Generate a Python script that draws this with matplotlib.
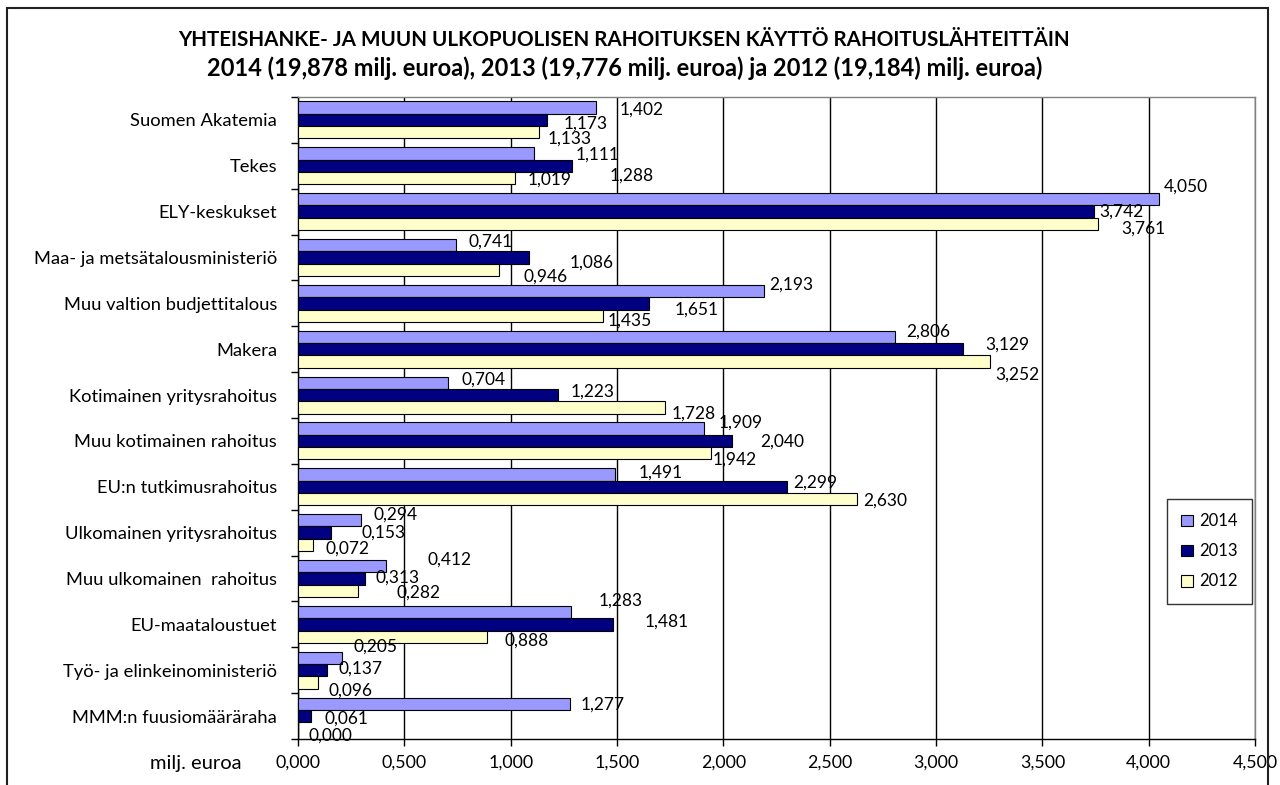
import matplotlib
matplotlib.use("Agg")
import matplotlib.pyplot as plt
from matplotlib.patches import Patch, Rectangle
import numpy as np

categories = ["Suomen Akatemia", "Tekes", "ELY-keskukset", "Maa- ja metsätalousministeriö",
              "Muu valtion budjettitalous", "Makera", "Kotimainen yritysrahoitus",
              "Muu kotimainen rahoitus", "EU:n tutkimusrahoitus", "Ulkomainen yritysrahoitus",
              "Muu ulkomainen  rahoitus", "EU-maataloustuet", "Työ- ja elinkeinoministeriö",
              "MMM:n fuusiomääräraha"]
v2014 = [1.402, 1.111, 4.050, 0.741, 2.193, 2.806, 0.704, 1.909, 1.491, 0.294, 0.412, 1.283, 0.205, 1.277]
v2013 = [1.173, 1.288, 3.742, 1.086, 1.651, 3.129, 1.223, 2.040, 2.299, 0.153, 0.313, 1.481, 0.137, 0.061]
v2012 = [1.133, 1.019, 3.761, 0.946, 1.435, 3.252, 1.728, 1.942, 2.630, 0.072, 0.282, 0.888, 0.096, 0.000]
series_names = ["2014", "2013", "2012"]
xticks = [0, 0.5, 1.0, 1.5, 2.0, 2.5, 3.0, 3.5, 4.0, 4.5]
title1 = "YHTEISHANKE- JA MUUN ULKOPUOLISEN RAHOITUKSEN KÄYTTÖ RAHOITUSLÄHTEITTÄIN"
title2 = "2014 (19,878 milj. euroa), 2013 (19,776 milj. euroa) ja 2012 (19,184) milj. euroa)"
xlabel = "milj. euroa"

# label placement offsets (layout only): dx in data units, dy in pixels (down positive)
lab_dx = [[0.112, 0.074, 0.040], [0.194, 0.179, 0.063], [0.020, 0.025, 0.109],
          [0.062, 0.189, 0.114], [0.025, 0.119, 0.023], [0.055, 0.102, 0.026],
          [0.063, 0.057, 0.027], [0.069, 0.134, 0.007], [0.110, 0.031, 0.030],
          [0.061, 0.146, 0.058], [0.198, 0.053, 0.179], [0.129, 0.151, 0.081],
          [0.054, 0.053, 0.047], [0.053, 0.062, 0.049]]
lab_dy = [[2, 4, 6], [1, 10, 2], [-13, 0, 5], [-4, 5, 7], [-6, 6, 5], [-5, -5, 13],
          [-3, -3, 6], [-6, 1, 6], [-2, -4, 2], [-6, 0, 4], [-7, -1, 2], [-11, -3, 4],
          [-11, -2, 8], [1, 3, 7]]

colors = ["#9999FF", "#000080", "#FFFFCC"]
FONT = "Lato"

W, H = 1280, 785
fig = plt.figure(figsize=(W / 100, H / 100), dpi=100)
ax = fig.add_axes([298 / W, 1 - 739 / H, (1255 - 298) / W, (739 - 97) / H])

n = len(categories)
y = np.arange(n)
bh = 0.268
offs = [-bh, 0.0, bh]
data = [v2014, v2013, v2012]
for s, (vals, off, col) in enumerate(zip(data, offs, colors)):
    ax.barh(y + off, vals, height=bh, color=col, edgecolor="black", linewidth=0.8, zorder=3)
    for i, v in enumerate(vals):
        txt = f"{v:.3f}".replace(".", ",")
        ax.annotate(txt, xy=(v + lab_dx[i][s], y[i] + off), xytext=(0, -lab_dy[i][s]),
                    textcoords="offset pixels", ha="left", va="center",
                    fontsize=12.5, family=FONT, color="black", zorder=5)

ax.set_xlim(0, 4.5)
ax.set_ylim(n - 0.5, -0.5)
ax.set_xticks(xticks)
ax.set_xticklabels([f"{t:.3f}".replace(".", ",") for t in xticks], family=FONT, fontsize=12.8)
ax.set_yticks(y)
ax.set_yticklabels(categories, family=FONT, fontsize=13.2)
ax.set_yticks(np.arange(n + 1) - 0.5, minor=True)
ax.tick_params(axis="y", which="major", length=0, pad=15)
ax.tick_params(axis="y", which="minor", length=5, width=1, direction="out", color="black")
ax.tick_params(axis="x", which="major", length=5, width=1, direction="out", pad=6, color="black")
ax.grid(axis="x", color="black", linewidth=1.0, zorder=0)
ax.set_axisbelow(True)
for side in ["top", "right"]:
    ax.spines[side].set_color("#808080")
    ax.spines[side].set_linewidth(1.0)
for side in ["left", "bottom"]:
    ax.spines[side].set_color("black")
    ax.spines[side].set_linewidth(1.0)

fig.text(196 / W, 1 - 763 / H, xlabel, ha="center", va="center", family=FONT, fontsize=14.5)

fig.text(624 / W, 1 - 40 / H, title1, ha="center", va="center", family=FONT,
         fontsize=14.9, fontweight="bold")
fig.text(625 / W, 1 - 68 / H, title2, ha="center", va="center", family=FONT,
         fontsize=17, fontweight="bold")

handles = [Patch(facecolor=c, edgecolor="black", linewidth=0.8) for c in colors]
leg = fig.legend(handles, series_names, loc="upper left",
                 bbox_to_anchor=(1167 / W, 1 - 499 / H), frameon=True,
                 prop={"family": FONT, "size": 12}, handlelength=0.7, handleheight=0.7,
                 handletextpad=0.4, labelspacing=0.85, borderpad=0.85, borderaxespad=0)
leg.get_frame().set_edgecolor("black")
leg.get_frame().set_linewidth(1.0)
leg.get_frame().set_boxstyle("square", pad=0)

fig.patches.append(Rectangle((7 / W, -0.05), (1268 - 7) / W, 1 - 8 / H + 0.05,
                             transform=fig.transFigure, fill=False, edgecolor="#202020",
                             linewidth=1.5, zorder=0))

fig.savefig("out.png", dpi=100, facecolor="white")
